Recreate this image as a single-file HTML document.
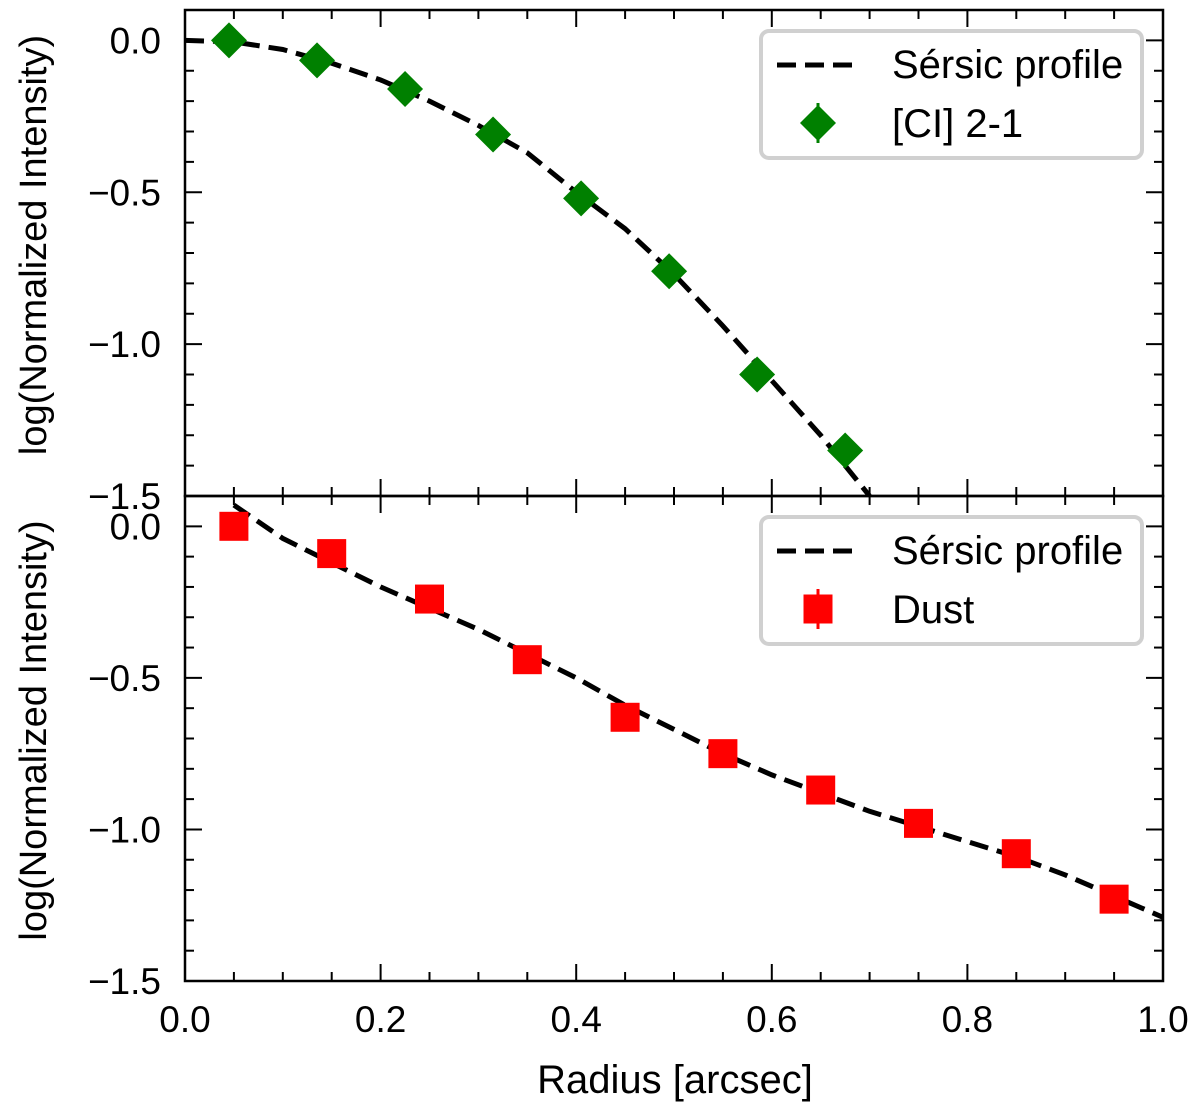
<!DOCTYPE html>
<html><head><meta charset="utf-8"><style>
body{margin:0;background:#fff}
svg text{font-family:"Liberation Sans",sans-serif;fill:#000}
</style></head><body>
<svg id="c" width="1200" height="1107" viewBox="0 0 1200 1107" xmlns="http://www.w3.org/2000/svg"></svg>
<script>
const topPtsX=[0.045,0.135,0.225,0.315,0.405,0.495,0.585,0.675];
const topPtsY=[0.0,-0.066,-0.16,-0.31,-0.52,-0.76,-1.10,-1.35];
const topCurveX=[0,0.05,0.1,0.15,0.2,0.25,0.3,0.35,0.4,0.45,0.5,0.55,0.6,0.65,0.7];
const topCurveY=[0,-0.005,-0.03,-0.075,-0.13,-0.2,-0.28,-0.37,-0.5,-0.62,-0.77,-0.94,-1.12,-1.3,-1.5];
const botPtsX=[0.05,0.15,0.25,0.35,0.45,0.55,0.65,0.75,0.85,0.95];
const botPtsY=[0.0,-0.09,-0.24,-0.44,-0.63,-0.75,-0.87,-0.98,-1.08,-1.23];
const botCurveX=[0.05,0.1,0.15,0.2,0.25,0.3,0.35,0.4,0.45,0.5,0.55,0.6,0.65,0.7,0.75,0.8,0.85,0.9,0.95,1.0];
const botCurveY=[0.07,-0.04,-0.12,-0.2,-0.27,-0.34,-0.42,-0.5,-0.59,-0.67,-0.75,-0.82,-0.88,-0.94,-0.99,-1.04,-1.09,-1.15,-1.22,-1.29];
const xTicks=[0,0.2,0.4,0.6,0.8,1.0];
const xTickLabels=["0.0","0.2","0.4","0.6","0.8","1.0"];
const yTicks=[0,-0.5,-1.0,-1.5];
const yTickLabels=["0.0","\u22120.5","\u22121.0","\u22121.5"];

const NS="http://www.w3.org/2000/svg";
const svg=document.getElementById('c');
function el(t,a,p){const e=document.createElementNS(NS,t);for(const k in a)e.setAttribute(k,a[k]);(p||svg).appendChild(e);return e;}
const X0=185,X1=1163;
const xs=v=>X0+(X1-X0)*v;

function panel(name,top,bot,px,py,cx,cy,marker,color,label){
  const ymax=0.1,ymin=-1.5;
  const ys=v=>top+(ymax-v)/(ymax-ymin)*(bot-top);
  const g=el('g',{});
  
  
  let d=cx.map((x,i)=>(i?'L':'M')+xs(x).toFixed(1)+','+ys(cy[i]).toFixed(1)).join(' ');
  const cp=el('clipPath',{id:name+'-clip'},g);
  el('rect',{x:X0,y:top,width:X1-X0,height:bot-top},cp);
  const line=el('path',{d:d,fill:'none',stroke:'#000','stroke-width':5,'stroke-dasharray':'19,9','clip-path':'url(#'+name+'-clip)'},g);
  
  
  px.forEach((x,i)=>{
    const cxp=xs(x),cyp=ys(py[i]);let m;
    if(marker==='d'){m=el('polygon',{points:`${cxp},${cyp-18} ${cxp+18},${cyp} ${cxp},${cyp+18} ${cxp-18},${cyp}`,fill:color},g);}
    else{m=el('rect',{x:cxp-14.5,y:cyp-14.5,width:29,height:29,fill:color},g);}
    
    
  });
  el('rect',{x:X0,y:top,width:X1-X0,height:bot-top,fill:'none',stroke:'#000','stroke-width':2.5},g);
  for(let k=0;k<=20;k++){const v=k*0.05,x=xs(v),L=(k%4===0)?17:9;
    el('line',{x1:x,y1:bot,x2:x,y2:bot-L,stroke:'#000','stroke-width':2},g);
    el('line',{x1:x,y1:top,x2:x,y2:top+L,stroke:'#000','stroke-width':2},g);}
  for(let k=-15;k<=1;k++){const v=k*0.1,y=ys(v),L=(k%5===0)?17:9;
    el('line',{x1:X0,y1:y,x2:X0+L,y2:y,stroke:'#000','stroke-width':2},g);
    el('line',{x1:X1,y1:y,x2:X1-L,y2:y,stroke:'#000','stroke-width':2},g);}
  yTicks.forEach((v,i)=>{const t=el('text',{x:X0-24,y:ys(v)+13,'font-size':37,'text-anchor':'end'},g);t.textContent=yTickLabels[i];
    
    });
  const yt=el('text',{x:0,y:0,'font-size':38,'text-anchor':'middle',transform:`translate(46,${(top+bot)/2-8}) rotate(-90)`},g);
  yt.textContent='log(Normalized Intensity)';
  
  
  const lg=el('g',{},g);
  
  
  const lt=top+21;
  el('rect',{x:761,y:lt,width:381,height:127,rx:8,fill:'#fff',stroke:'#d0d0d0','stroke-width':4},lg);
  el('path',{d:`M777,${lt+34} L860,${lt+34}`,stroke:'#000','stroke-width':5,'stroke-dasharray':'19,9'},lg);
  let t1=el('text',{x:892,y:lt+47,'font-size':40},lg);t1.textContent='Sérsic profile';
  const mx=818,my=lt+92;
  if(marker==='d')el('polygon',{points:`${mx},${my-18} ${mx+18},${my} ${mx},${my+18} ${mx-18},${my}`,fill:color},lg);
  else el('rect',{x:mx-14.5,y:my-14.5,width:29,height:29,fill:color},lg);
  el('line',{x1:mx,y1:my-20,x2:mx,y2:my+20,stroke:color,'stroke-width':3},lg);
  let t2=el('text',{x:892,y:my+14,'font-size':40},lg);t2.textContent=label;
}
panel('top-panel',10,496,topPtsX,topPtsY,topCurveX,topCurveY,'d','#008000','[CI] 2-1');
panel('bottom-panel',496,981,botPtsX,botPtsY,botCurveX,botCurveY,'s','#ff0000','Dust');
xTicks.forEach((v,i)=>{const t=el('text',{x:xs(v),y:1032,'font-size':37,'text-anchor':'middle'});t.textContent=xTickLabels[i];
  
  });
const xt=el('text',{x:675,y:1093,'font-size':40,'text-anchor':'middle'});
xt.textContent='Radius [arcsec]';


</script>
</body></html>
